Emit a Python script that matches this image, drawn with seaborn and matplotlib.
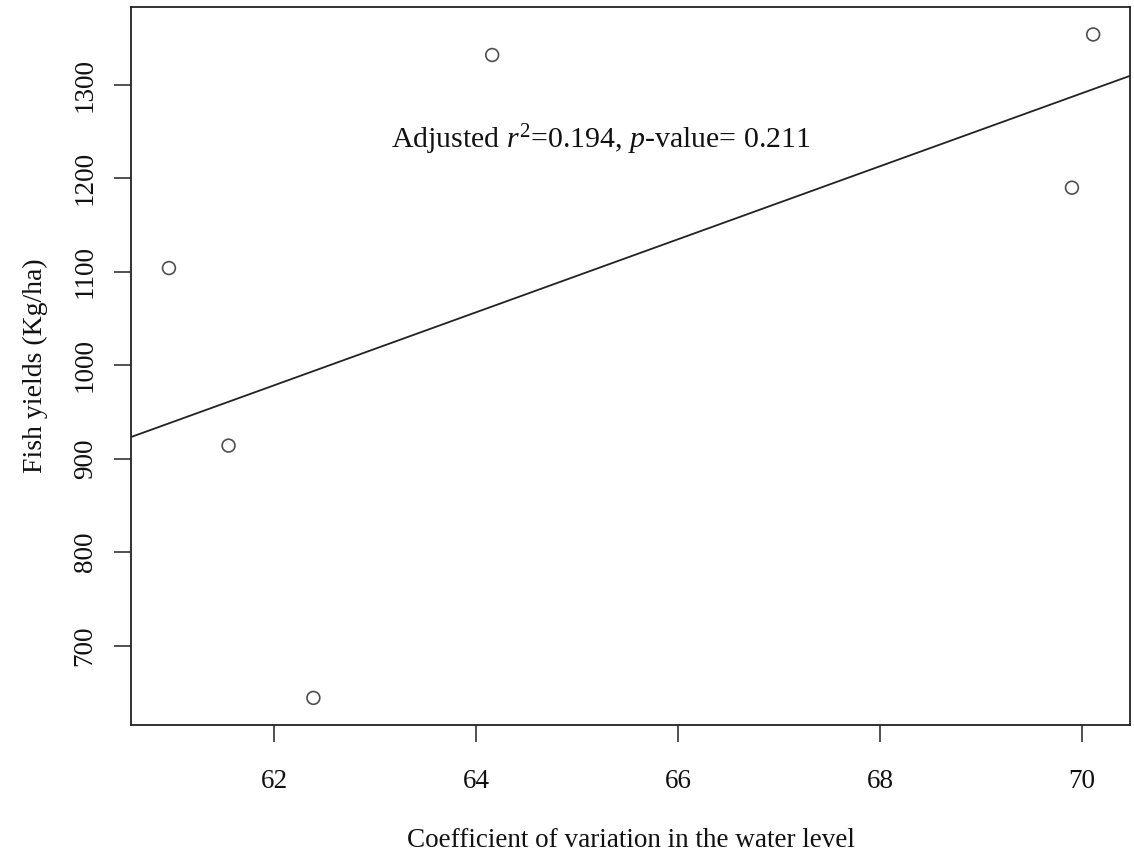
import matplotlib
matplotlib.use("Agg")
import matplotlib.pyplot as plt
import seaborn as sns
import numpy as np
import pandas as pd

# values
cv_water_level = [60.96, 61.55, 62.39, 64.16, 69.90, 70.11]
fish_yield = [1104, 914, 644, 1332, 1190, 1354]
x_ticks = [62, 64, 66, 68, 70]
y_ticks = [700, 800, 900, 1000, 1100, 1200, 1300]
annot_text = r"Adjusted $r^2$=0.194, $p$-value= 0.211"

df = pd.DataFrame({"cv": cv_water_level, "yield": fish_yield})

sns.set_style("ticks")
plt.rcParams["font.family"] = ["Liberation Serif", "DejaVu Serif"]
plt.rcParams["mathtext.fontset"] = "custom"
plt.rcParams["mathtext.rm"] = "Liberation Serif"
plt.rcParams["mathtext.it"] = "Liberation Serif:italic"

fig = plt.figure(figsize=(11.34, 8.59), dpi=100)
ax = fig.add_axes([0.1155, 0.156, 0.881, 0.836])

xlim = (60.584, 70.475)
ylim = (615, 1383.5)
ax.set_xlim(xlim)
ax.set_ylim(ylim)

# fitted line across the whole plotting region (like abline in R)
sns.regplot(data=df, x="cv", y="yield", ax=ax, ci=None, truncate=False,
            scatter_kws=dict(s=85, facecolors="none", edgecolors="#222222",
                             linewidths=1.2),
            line_kws=dict(color="#222222", lw=1.3))

ax.set_xlim(xlim)
ax.set_ylim(ylim)
ax.set_xticks(x_ticks)
ax.set_yticks(y_ticks)

for side in ["top", "right", "left", "bottom"]:
    ax.spines[side].set_visible(True)
    ax.spines[side].set_color("#222222")
    ax.spines[side].set_linewidth(1.3)

ax.tick_params(axis="both", length=12, width=1.1, color="#222222",
               labelsize=19.5, labelcolor="#111111")
ax.tick_params(axis="x", pad=20)
ax.tick_params(axis="y", pad=12, labelrotation=90)
for lab in ax.get_yticklabels():
    lab.set_va("center")

ax.set_xlabel("Coefficient of variation in the water level", fontsize=19.5,
              labelpad=24, color="#111111")
ax.set_ylabel("Fish yields (Kg/ha)", fontsize=20, labelpad=18, color="#111111")

ax.text(65.24, 1241, annot_text, fontsize=21.5, ha="center", va="center",
        color="#111111")

fig.savefig("out.png", dpi=100)
